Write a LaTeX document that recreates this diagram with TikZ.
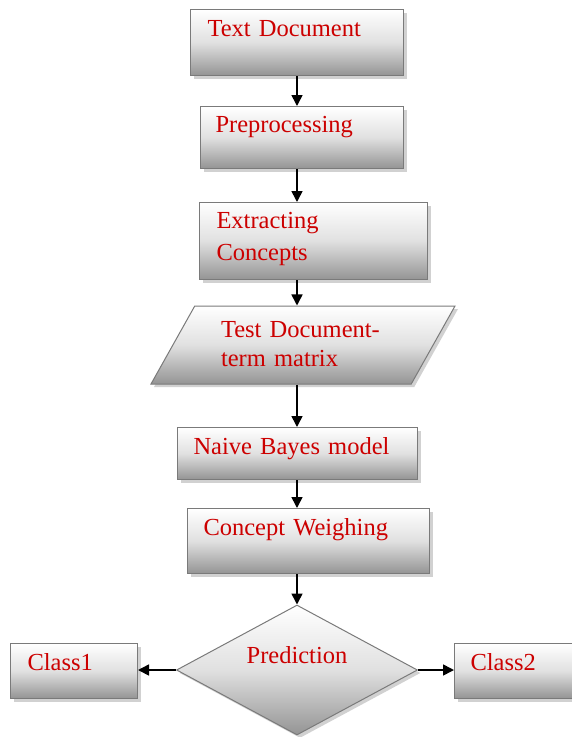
\documentclass[tikz,border=0pt]{standalone}
\usepackage{fontspec}
\setmainfont{Liberation Serif}
\usetikzlibrary{shapes.geometric,shadows,arrows.meta}
\definecolor{labelred}{HTML}{CC0000}
\definecolor{framegray}{HTML}{7A7A7A}
\tikzset{ step_shade/.style = { top color = white % gray gradient of every block
        , bottom color = black!42
        , middle color = black!12
        }
        , step_shadow/.style = {drop shadow={shadow xshift=3pt, shadow yshift=-3pt, fill=black!30, opacity=.6}}
        }

\begin{document}
\begin{tikzpicture}[x=1pt, y=-1pt, >={Triangle[length=11pt,width=11pt]},
        node_style/.style={draw=framegray, line width=1pt, step_shade, step_shadow, text=labelred, font=\fontsize{24.5}{30}\selectfont, inner ysep=0pt, align=left},
        step_style/.style={node_style, rectangle, anchor=north west},
        data_style/.style={node_style, trapezium, trapezium left angle=52, trapezium right angle=128, trapezium stretches body},
        decision_style/.style={node_style, diamond, aspect=1.85, inner sep=0pt},
        edge_style/.style={draw=black, line width=1.6pt, ->}]
        \useasboundingbox (0,0) rectangle (571,737);
        \coordinate (spine) at (297,0);

        \node [step_style, text width=179pt, inner xsep=17pt, text height=27pt, text depth=39pt] (doc) at (190,9) {Text Document};
        \node [step_style, text width=173pt, inner xsep=15pt, text height=26pt, text depth=36pt] (prep) at (200,106) {Preprocessing};
        \node [step_style, text width=194pt, inner xsep=17pt, text height=26pt, text depth=51pt, font=\fontsize{24.5}{32}\selectfont] (extract) at (199,202) {Extracting\\Concepts};
        \node [data_style, minimum width=304pt, minimum height=78pt, text width=164pt, inner xsep=0pt, text height=20pt, text depth=36pt, font=\fontsize{24.5}{29}\selectfont] (matrix) at (303,345) {Test Document-\\term matrix};
        \node [step_style, text width=208pt, inner xsep=16pt, text height=27pt, text depth=25pt] (naive) at (177,427) {Naive Bayes model};
        \node [step_style, text width=210pt, inner xsep=16pt, text height=27pt, text depth=38pt] (weigh) at (187,508) {Concept Weighing};
        \node [decision_style, minimum width=241pt, minimum height=130pt, text height=17pt, text depth=31pt] (pred) at (297,670) {Prediction};
        \node [step_style, text width=93pt, inner xsep=17pt, text height=27pt, text depth=28pt] (class1) at (10,643) {Class1};
        \node [step_style, text width=89pt, inner xsep=16pt, text height=27pt, text depth=28pt] (class2) at (454,643) {Class2};

        \draw [edge_style] (spine |- doc.south) -- (spine |- prep.north);
        \draw [edge_style] (spine |- prep.south) -- (spine |- extract.north);
        \draw [edge_style] (spine |- extract.south) -- (spine |- matrix.north);
        \draw [edge_style] (spine |- matrix.south) -- (spine |- naive.north);
        \draw [edge_style] (spine |- naive.south) -- (spine |- weigh.north);
        \draw [edge_style] (spine |- weigh.south) -- (pred.north);
        \draw [edge_style] (pred.west) -- (pred.west -| class1.east);
        \draw [edge_style] (pred.east) -- (pred.east -| class2.west);
\end{tikzpicture}
\end{document}
